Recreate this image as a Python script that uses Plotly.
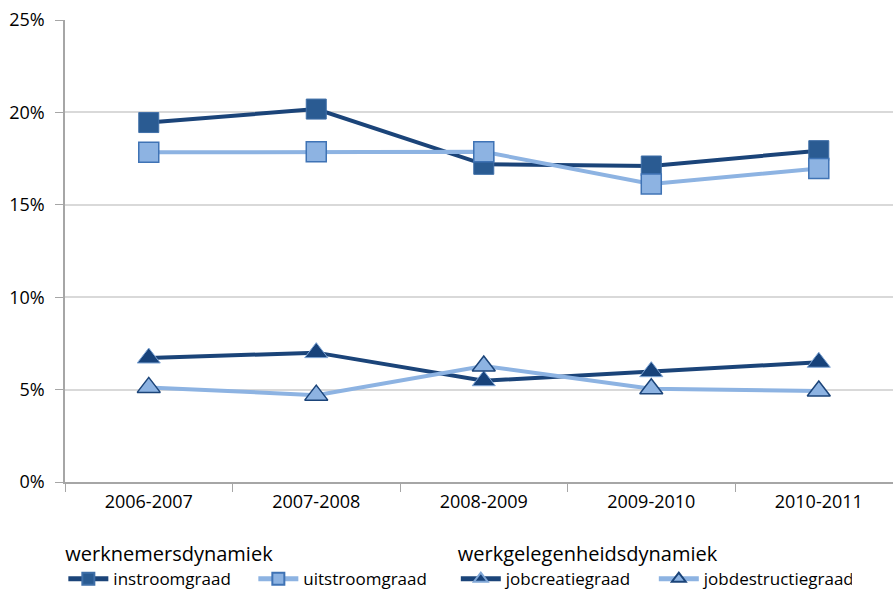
import plotly.graph_objects as go

# Periods and rates (percent)
periods = ["2006-2007", "2007-2008", "2008-2009", "2009-2010", "2010-2011"]
instroomgraad = [19.45, 20.18, 17.19, 17.1, 17.93]
uitstroomgraad = [17.84, 17.87, 17.87, 16.13, 16.97]
jobcreatiegraad = [6.71, 7.0, 5.48, 5.97, 6.48]
jobdestructiegraad = [5.12, 4.7, 6.28, 5.05, 4.92]

DARK = "#1B4479"
DARK_FILL = "#2A5B92"
LIGHT = "#8DB3E2"
LIGHT_EDGE = "#3F73B5"
FONT = "Open Sans"

fig = go.Figure()

fig.add_trace(go.Scatter(
    x=periods, y=instroomgraad, name="instroomgraad", legend="legend",
    mode="lines+markers",
    line=dict(color=DARK, width=4),
    marker=dict(symbol="square", size=20, color=DARK_FILL,
                line=dict(color="#3F6FA8", width=1)),
))
fig.add_trace(go.Scatter(
    x=periods, y=uitstroomgraad, name="uitstroomgraad", legend="legend",
    mode="lines+markers",
    line=dict(color=LIGHT, width=4),
    marker=dict(symbol="square", size=20, color=LIGHT,
                line=dict(color=LIGHT_EDGE, width=1.5)),
))
fig.add_trace(go.Scatter(
    x=periods, y=jobcreatiegraad, name="jobcreatiegraad", legend="legend2",
    mode="lines+markers",
    line=dict(color=DARK, width=4),
    marker=dict(symbol="triangle-up", size=20, color="#17427A",
                line=dict(color="#7FA6D6", width=1)),
))
fig.add_trace(go.Scatter(
    x=periods, y=jobdestructiegraad, name="jobdestructiegraad", legend="legend2",
    mode="lines+markers",
    line=dict(color=LIGHT, width=4),
    marker=dict(symbol="triangle-up", size=20, color=LIGHT,
                line=dict(color=DARK, width=1.5)),
))

legend_common = dict(
    orientation="h", xanchor="left", yanchor="top",
    font=dict(family=FONT, size=17, color="#000000"),
    title=dict(side="top", font=dict(family=FONT, size=20, color="#000000")),
    bgcolor="rgba(0,0,0,0)", tracegroupgap=0,
    itemwidth=40, itemsizing="constant",
)

fig.update_layout(
    width=893, height=591,
    margin=dict(l=65, r=0, t=20, b=109, autoexpand=False),
    paper_bgcolor="white", plot_bgcolor="white",
    font=dict(family=FONT, size=18, color="#000000"),
    showlegend=True,
    legend=dict(legend_common, x=-0.002, y=-0.115, entrywidth=135,
                title_text="werknemersdynamiek"),
    legend2=dict(legend_common, x=0.472, y=-0.115, entrywidth=143,
                 title_text="werkgelegenheidsdynamiek"),
    xaxis=dict(
        type="category", range=[-0.5, 4.443],
        showline=True, linecolor="#A6A6A6", linewidth=1.5,
        ticks="outside", tickson="boundaries", ticklen=8, tickcolor="#A6A6A6",
        ticklabelstandoff=3,
        showgrid=False, tickfont=dict(family=FONT, size=18, color="#000000"),
    ),
    yaxis=dict(
        range=[0, 25], dtick=5, ticksuffix="%",
        showline=True, linecolor="#A6A6A6", linewidth=1.5,
        ticks="outside", ticklen=8, tickcolor="#A6A6A6",
        ticklabelstandoff=7,
        showgrid=True, gridcolor="#D9D9D9", gridwidth=1.5,
        zeroline=False,
        tickfont=dict(family=FONT, size=18, color="#000000"),
    ),
)

fig.write_html("out.html")
